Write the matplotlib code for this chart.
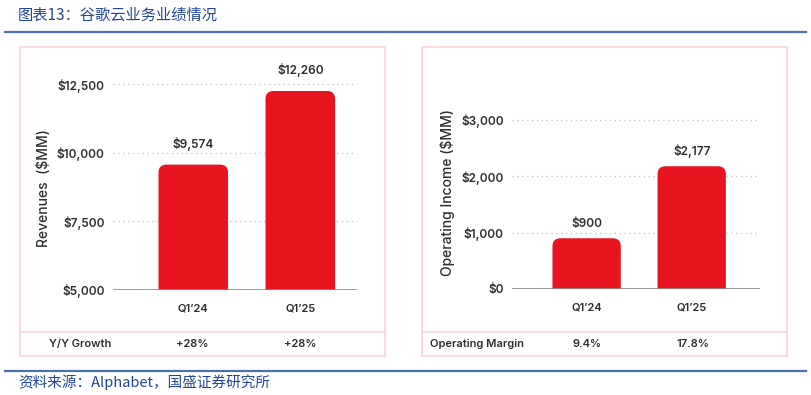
import matplotlib
matplotlib.use("Agg")
import matplotlib.pyplot as plt
from matplotlib.patches import FancyBboxPatch, Rectangle
from matplotlib.lines import Line2D

# data
quarters = ["Q1\u201924", "Q1\u201925"]
revenues = [9574, 12260]
revenue_labels = ["$9,574", "$12,260"]
yoy_growth = ["+28%", "+28%"]
op_income = [900, 2177]
op_income_labels = ["$900", "$2,177"]
op_margin = ["9.4%", "17.8%"]

rev_ticks = [5000, 7500, 10000, 12500]
inc_ticks = [0, 1000, 2000, 3000]

RED = "#e8141f"
PINK = "#f9d5d5"
BLUE = "#4a72b0"
TXT = "#2e2e2e"
FONT = "Inter"

W, H = 811, 395
fig = plt.figure(figsize=(W / 100, H / 100), dpi=100)


def fx(px):
    return px / W


def fy(py):
    return 1 - py / H


# header / footer
cjk = ["Noto Sans CJK SC", "DejaVu Sans"]
fig.text(fx(18), fy(15), "图表13：谷歌云业务业绩情况", family=cjk, style="italic",
         fontsize=11, color="#22479a", va="center", ha="left")
fig.text(fx(18), fy(382), "资料来源：Alphabet，国盛证券研究所", family=cjk, style="italic",
         fontsize=10.5, color="#22479a", va="center", ha="left")
fig.add_artist(Line2D([fx(5), fx(806)], [fy(32), fy(32)], color=BLUE, lw=1.6))
fig.add_artist(Line2D([fx(5), fx(806)], [fy(371), fy(371)], color=BLUE, lw=1.6))


def panel(left, right, top, bottom, sep):
    fig.add_artist(Rectangle((fx(left), fy(bottom)), fx(right - left), (bottom - top) / H,
                             fill=False, ec=PINK, lw=1.2))
    fig.add_artist(Line2D([fx(left), fx(right)], [fy(sep), fy(sep)], color=PINK, lw=1.2))


def bar_chart(ax, values, labels, ticks, ylim, xlim, label_off, radius_px=8):
    ax.set_xlim(*xlim)
    ax.set_ylim(*ylim)
    bars = ax.bar(range(len(values)), values, width=0.65, bottom=0, color=RED)
    # rounded top corners, square bottom (clipped below the axis)
    x_per_px = (xlim[1] - xlim[0]) / (ax.get_position().width * W)
    y_per_px = (ylim[1] - ylim[0]) / (ax.get_position().height * H)
    r = radius_px * x_per_px
    aspect = y_per_px / x_per_px
    lo = ylim[0] - (ylim[1] - ylim[0]) * 0.1
    for b, v in zip(bars, values):
        b.set_visible(False)
        ax.add_patch(FancyBboxPatch((b.get_x(), lo), b.get_width(), v - lo,
                                    boxstyle=f"round,pad=0,rounding_size={r}",
                                    mutation_aspect=aspect, fc=RED, ec="none", zorder=3))
    for i, (v, lab) in enumerate(zip(values, labels)):
        ax.annotate(lab, (i, v), xytext=(0, label_off), textcoords="offset points",
                    ha="center", va="bottom", fontsize=8.5, family=FONT,
                    fontweight="semibold", color=TXT)
    for t in ticks[1:]:
        ax.axhline(t, color="#c8c8c8", lw=1, ls=(0, (1, 2.5)), zorder=1)
    ax.axhline(ticks[0], color="#888888", lw=1.2, zorder=4)
    ax.set_yticks(ticks)
    ax.set_yticklabels([f"${t:,}" for t in ticks], family=FONT, fontweight="semibold",
                       fontsize=8.5, color=TXT)
    ax.set_xticks(range(len(values)))
    ax.set_xticklabels(quarters, family=FONT, fontweight="semibold", fontsize=8, color=TXT)
    ax.tick_params(length=0, axis="y", pad=6)
    ax.tick_params(length=0, axis="x", pad=10)
    for s in ax.spines.values():
        s.set_visible(False)


# left panel: revenues
panel(20, 385, 47, 356, 332)
ax1 = fig.add_axes([fx(113), fy(290), fx(244), 233 / H])
bar_chart(ax1, revenues, revenue_labels, rev_ticks, (5000, 13500), (-0.75, 1.53), 10)
fig.text(fx(44), fy(188), "Revenues  ($MM)", rotation=90, ha="center", va="center",
         family=FONT, fontweight="medium", fontsize=10, color=TXT)
fig.text(fx(80), fy(344), "Y/Y Growth", ha="center", va="center", family=FONT,
         fontweight="semibold", fontsize=8, color=TXT)
for xp, g in zip([192, 300], yoy_growth):
    fig.text(fx(xp), fy(344), g, ha="center", va="center", family=FONT,
             fontweight="semibold", fontsize=8, color=TXT)

# right panel: operating income
panel(422, 787, 47, 356, 332)
ax2 = fig.add_axes([fx(512), fy(289), fx(248), 197.4 / H])
bar_chart(ax2, op_income, op_income_labels, inc_ticks, (0, 3500), (-0.71, 1.65), 6)
fig.text(fx(448), fy(192), "Operating Income ($MM)", rotation=90, ha="center", va="center",
         family=FONT, fontweight="medium", fontsize=10, color=TXT)
fig.text(fx(477), fy(344), "Operating Margin", ha="center", va="center", family=FONT,
         fontweight="semibold", fontsize=8, color=TXT)
for xp, m in zip([587, 693], op_margin):
    fig.text(fx(xp), fy(344), m, ha="center", va="center", family=FONT,
             fontweight="semibold", fontsize=8, color=TXT)

fig.savefig("out.png", dpi=100)
